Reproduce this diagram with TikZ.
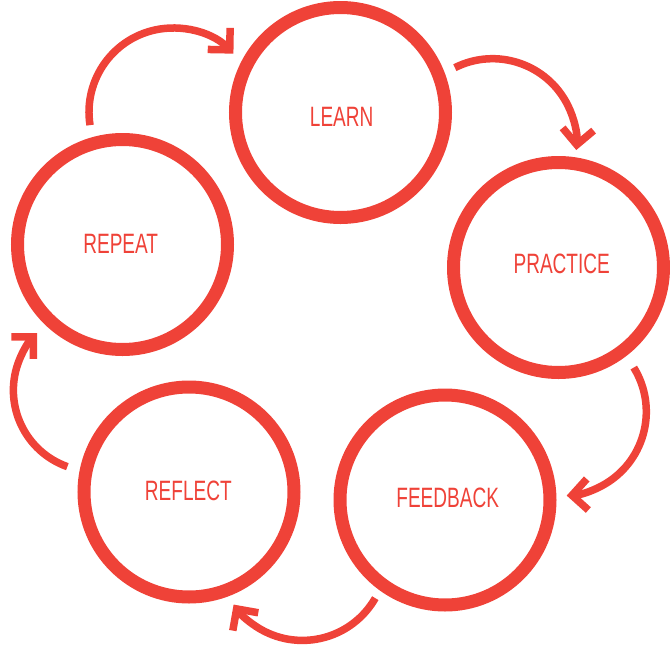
\documentclass[tikz,border=0pt]{standalone}
\usepackage{fontspec}
\newfontfamily\labfont{Liberation Sans}[FakeStretch=0.68]
\usetikzlibrary{arrows.meta,calc}
\definecolor{cyclered}{RGB}{239,66,56}
\begin{document}
\begin{tikzpicture}[x=1pt,y=-1pt,
  ring/.style={circle, draw=cyclered, line width=13pt, minimum size=210pt, inner sep=0pt},
  lab/.style={text=cyclered, font=\labfont\fontsize{28}{28}\selectfont, inner sep=0pt},
  cyc/.style={draw=cyclered, line width=7.5pt, line cap=butt, -{Straight Barb[sharp, angle=90:22pt]}}]
\useasboundingbox (0,0) rectangle (670,646);
% circles
\node[ring] (learn)    at (340.5,112.5) {};
\node[ring] (practice) at (558.5,267.5) {};
\node[ring] (feedback) at (445,500) {};
\node[ring] (reflect)  at (189,492) {};
\node[ring] (repeat)   at (122.5,244.5) {};
% labels
\node[lab] (tlearn)    at (341.7,116.7) {LEARN};
\node[lab] (tpractice) at (561.7,263.5) {PRACTICE};
\node[lab] (tfeedback) at (447.7,498.3) {FEEDBACK};
\node[lab] (treflect)  at (188.3,490.7) {REFLECT};
\node[lab] (trepeat)   at (120.7,244) {REPEAT};
% arc centres
\coordinate (o1) at (173,112);
\coordinate (o2) at (492.6,142.7);
\coordinate (o3) at (562.3,411.7);
\coordinate (o4) at (302.4,556.4);
\coordinate (o5) at (94.4,390.3);
% arrow starts
\coordinate (s1) at ($(o1)+(171:84)$);
\coordinate (s2) at ($(o2)+(-116.7:84)$);
\coordinate (s3) at ($(o3)+(-31.7:84)$);
\coordinate (s4) at ($(o4)+(29.8:84)$);
\coordinate (s5) at ($(o5)+(109.5:81)$);
% arrows
\draw[cyc] (s1) arc[start angle=171, end angle=316, radius=84];
\draw[cyc] (s2) arc[start angle=-116.7, end angle=5, radius=84];
\draw[cyc] (s3) arc[start angle=-31.7, end angle=87, radius=84];
\draw[cyc] (s4) arc[start angle=29.8, end angle=145, radius=84];
\draw[cyc] (s5) arc[start angle=109.5, end angle=225, radius=81];
\end{tikzpicture}
\end{document}
